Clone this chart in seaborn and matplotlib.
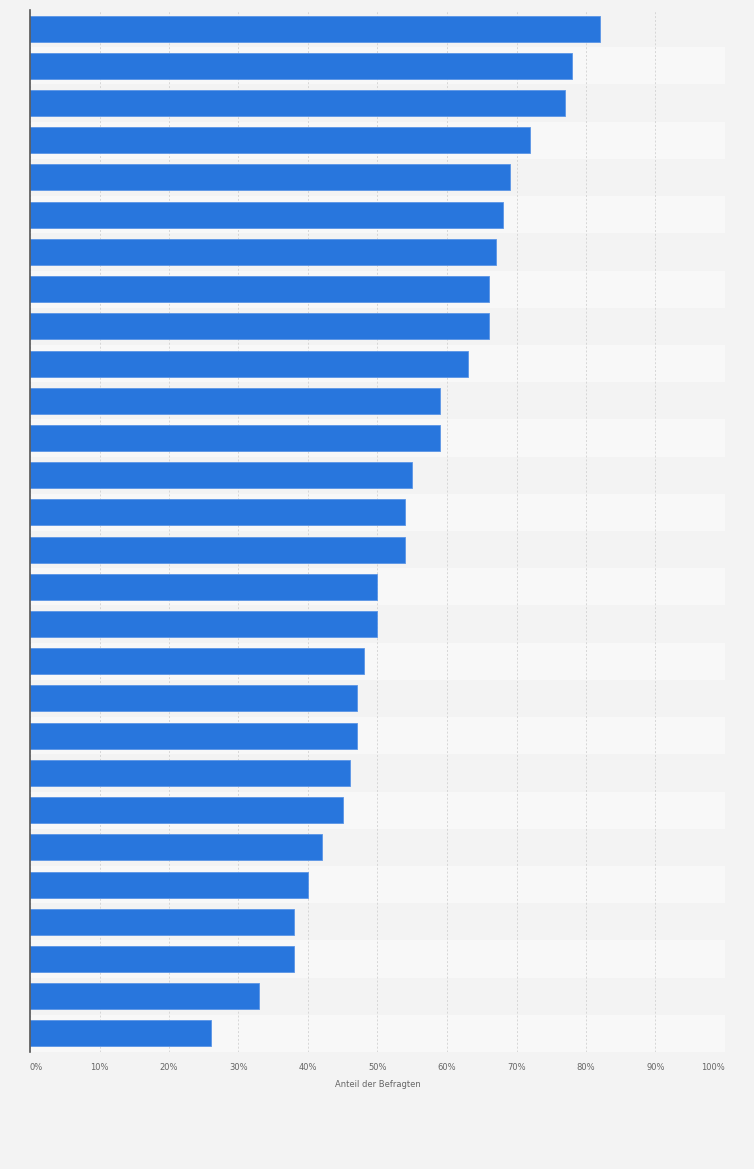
import matplotlib
matplotlib.use("Agg")
import matplotlib.pyplot as plt
import seaborn as sns
import pandas as pd

# Werte (Anteil der Befragten in %), von oben nach unten
categories = [f"Kategorie {i}" for i in range(1, 29)]
values = [82, 78, 77, 72, 69, 68, 67, 66, 66, 63,
          59, 59, 55, 54, 54, 50, 50, 48, 47, 47,
          46, 45, 42, 40, 38, 38, 33, 26]
x_ticks = [0, 10, 20, 30, 40, 50, 60, 70, 80, 90, 100]
x_tick_labels = [f"{t}%" for t in x_ticks]

df = pd.DataFrame({"Kategorie": categories, "Anteil": values})

sns.set_style("white")
plt.rcParams["font.family"] = ["DejaVu Sans"]

fig = plt.figure(figsize=(7.54, 11.69), dpi=100, facecolor="#f3f3f3")
ax = fig.add_axes([30 / 754, 1 - 1052 / 1169, 695 / 754, 1042 / 1169])
ax.set_facecolor("#f3f3f3")

# alternierende Zeilenstreifen
for i in range(len(categories)):
    ax.axhspan(i - 0.5, i + 0.5, color="#f3f3f3" if i % 2 == 0 else "#f8f8f8",
               zorder=0, lw=0)

sns.barplot(data=df, x="Anteil", y="Kategorie", orient="h", ax=ax,
            color="#2876dd", saturation=1, width=0.7,
            edgecolor="#5b95e6", linewidth=0.6, zorder=3)

ax.set_xlim(0, 100)
ax.set_ylim(len(categories) - 0.5, -0.5)
ax.set_xticks(x_ticks)
ax.set_xticklabels(x_tick_labels, fontsize=6, color="#666666")
labels = ax.get_xticklabels()
labels[0].set_ha("left")
labels[-1].set_ha("right")
ax.tick_params(axis="x", length=0, pad=8)
ax.set_yticks([])
ax.set_ylabel("")
ax.set_xlabel("Anteil der Befragten", fontsize=6, color="#666666", labelpad=6)

ax.grid(axis="x", color="#d6d6d6", linestyle=(0, (2, 2)), linewidth=0.7, zorder=1)
ax.set_axisbelow(True)

for side in ["top", "right", "bottom"]:
    ax.spines[side].set_visible(False)
ax.spines["left"].set_color("#555555")
ax.spines["left"].set_linewidth(1.2)
ax.spines["left"].set_zorder(5)

fig.savefig("out.png", dpi=100, facecolor=fig.get_facecolor())
